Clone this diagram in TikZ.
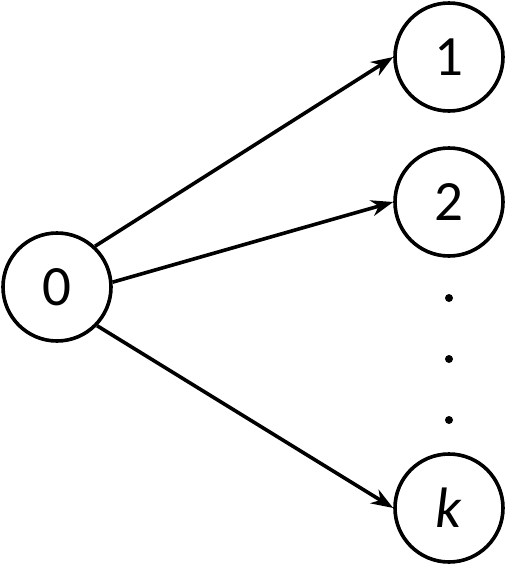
\documentclass[tikz,border=0pt]{standalone}
\usepackage{fontspec}
\setmainfont{Carlito}
\usetikzlibrary{arrows.meta}
\begin{document}
\begin{tikzpicture}[x=1pt,y=-1pt,
  vert/.style={circle,draw,line width=3.6pt,minimum size=108pt,inner sep=0pt,font=\fontsize{57}{60}\selectfont},
  edge/.style={line width=3.6pt,-{Stealth[length=22pt,width=16pt,inset=7pt]}},
  dotm/.style={circle,fill,inner sep=0pt,minimum size=8pt}]
\useasboundingbox (0,0) rectangle (506,579);
\node[vert] (n0) at (57,287) {0};
\node[vert] (n1) at (449,57) {1};
\node[vert] (n2) at (449,202) {2};
\node[vert] (nk) at (449,508) {\textit{k}};
\node[dotm] (d1) at (449,298) {};
\node[dotm] (d2) at (449,359) {};
\node[dotm] (d3) at (449,420) {};
\draw[edge] (n0.47) -- (n1.west);
\draw[edge] (n0.5) -- (n2.west);
\draw[edge] (n0.-44) -- (nk.west);
\end{tikzpicture}
\end{document}
